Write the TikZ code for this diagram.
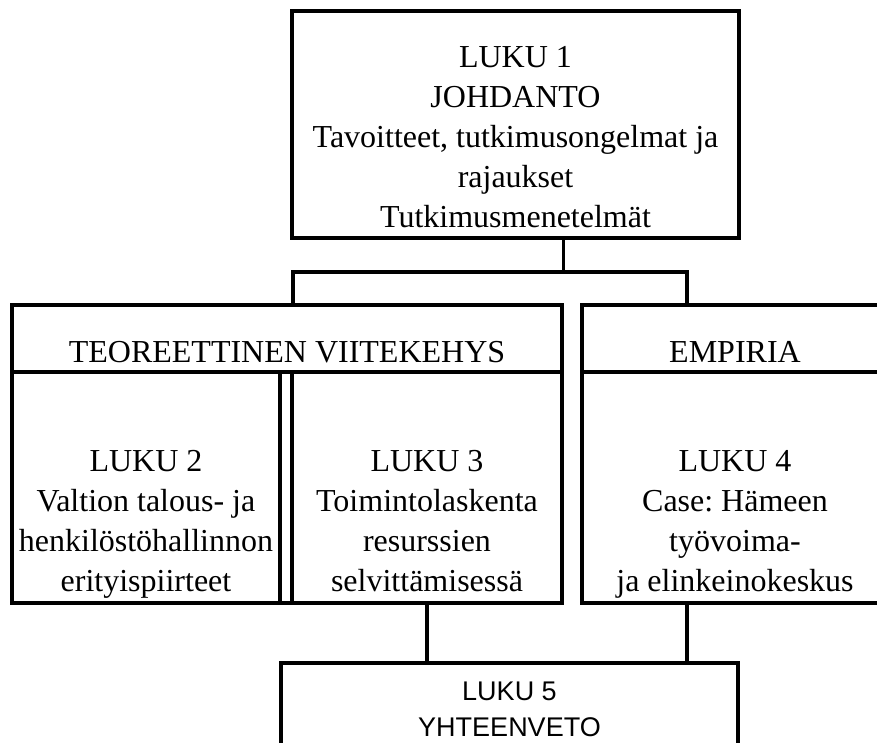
\documentclass[tikz,border=0pt]{standalone}
\usepackage{fontspec}
\setmainfont{Liberation Serif}
\newfontfamily\sumfont{Liberation Sans}
\usetikzlibrary{positioning}
\frenchspacing
\tikzset{
  frame/.style={
    draw,
    line width=3.2pt,
    inner sep=0pt
  },
  chapter/.style={
    frame,
    minimum height=231pt
  },
  header/.style={
    frame,
    minimum height=67pt
  },
  txt/.style={
    align=center,
    inner sep=0pt,
    font=\fontsize{32}{40}\selectfont
  },
  sumtxt/.style={
    txt,
    font=\sumfont\fontsize{27}{36}\selectfont
  },
  link/.style={line width=3.2pt},
}
\begin{document}
\begin{tikzpicture}[x=1pt,y=-1pt]
\useasboundingbox (0,0) rectangle (877,743);
\clip (0,0) rectangle (877,743);

% Introduction
\node[frame, minimum width=447pt, minimum height=227pt] (top) at (515.5,124.5) {};
\node[txt, below=37pt of top.north] (toptxt) {LUKU 1\\JOHDANTO\\Tavoitteet, tutkimusongelmat ja\\rajaukset\\Tutkimusmenetelm\"at};

% Theory
\node[frame, minimum width=550pt, minimum height=298pt] (teo) at (287,454) {};
\node[header, minimum width=550pt] (teohead) at (287,338.5) {};
\node[txt, below=38pt of teohead.north] (teotxt) {TEOREETTINEN VIITEKEHYS};
\node[chapter, minimum width=268pt] (ch2) at (146,487.5) {};
\node[chapter, minimum width=270pt] (ch3) at (427,487.5) {};
\node[txt, below=80pt of ch2.north] (ch2txt) {LUKU 2\\Valtion talous- ja\\henkil\"ost\"ohallinnon\\erityispiirteet};
\node[txt, below=80pt of ch3.north] (ch3txt) {LUKU 3\\Toimintolaskenta\\resurssien\\selvitt\"amisess\"a};

% Empirical part
\node[frame, minimum width=306pt, minimum height=298pt] (emp) at (735,454) {};
\node[header, minimum width=306pt] (emphead) at (735,338.5) {};
\node[txt, below=38pt of emphead.north] (emptxt) {EMPIRIA};
\node[chapter, minimum width=306pt] (ch4) at (735,487.5) {};
\node[txt, below=80pt of ch4.north] (ch4txt) {LUKU 4\\Case: H\"ameen\\ty\"ovoima-\\ja elinkeinokeskus};

% Summary
\node[frame, minimum width=457pt, minimum height=120pt] (sum) at (509.5,723) {};
\node[sumtxt, below=20pt of sum.north] (sumtxt) {LUKU 5\\YHTEENVETO};

% Connectors
\coordinate (busL) at (293,272);
\coordinate (busR) at (687,272);
\draw[link] (top.south -| teo.east) -- (teo.east |- busL);
\draw[link] (busL |- teo.north) -- (busL) -- (busR) -- (busR |- emp.north);
\draw[link] (ch3.south) -- (ch3.south |- sum.north);
\draw[link] (busR |- ch4.south) -- (busR |- sum.north);

\end{tikzpicture}
\end{document}
